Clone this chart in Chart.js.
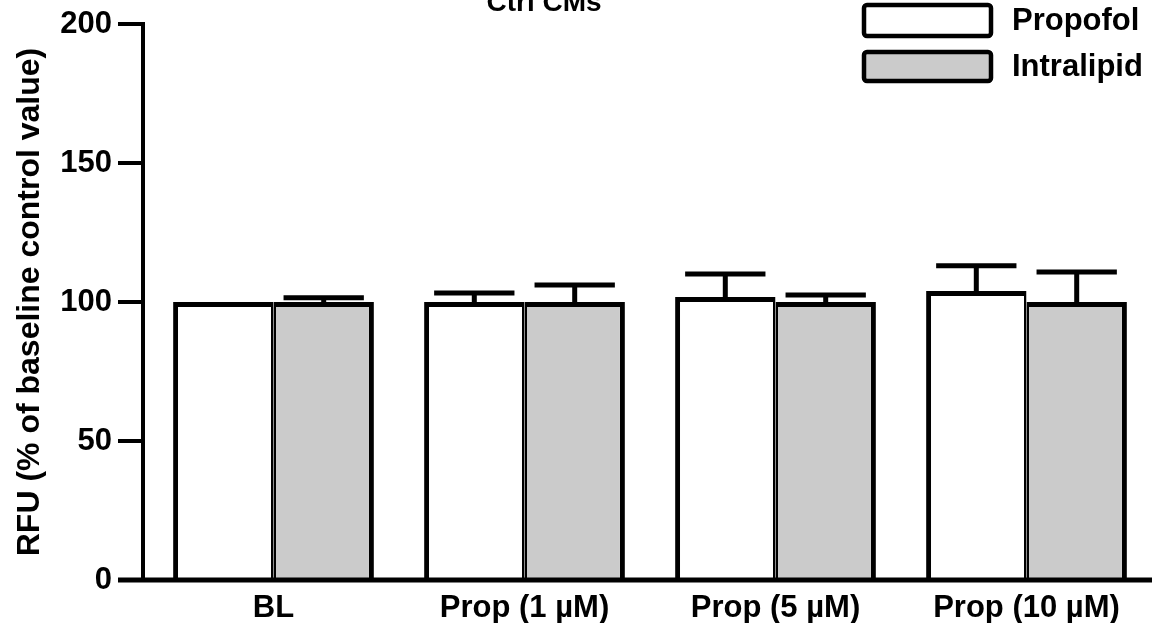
<!DOCTYPE html>
<html>
<head>
<meta charset="utf-8">
<script src="https://cdn.jsdelivr.net/npm/chart.js@4"></script>
<style>
  html, body { margin: 0; padding: 0; background: #ffffff; }
  #wrap { width: 1152px; height: 623px; }
</style>
</head>
<body>
<div id="wrap"><canvas id="c" width="1152" height="623"></canvas></div>
<script>
const categories = ['BL', 'Prop (1 µM)', 'Prop (5 µM)', 'Prop (10 µM)'];
const seriesNames = ['Propofol', 'Intralipid'];
const propofolValues = [100, 100, 101.8, 104.0];
const propofolErrors = [0, 3.2, 8.3, 9.0];
const intralipidValues = [100, 100, 100, 100];
const intralipidErrors = [1.5, 6.1, 2.5, 10.8];
const yTicks = [0, 50, 100, 150, 200];
const chartTitle = 'Ctrl CMs';
const yTitle = 'RFU (% of baseline control value)';

const FONT = '"Liberation Sans", Arial, sans-serif';
const GRAY = '#cbcbcb';

const errorsByDataset = [propofolErrors, intralipidErrors];

const decorPlugin = {
  id: 'decor',
  afterDatasetsDraw(chart) {
    const ctx = chart.ctx;
    const y = chart.scales.y;
    ctx.save();
    ctx.strokeStyle = '#000';
    ctx.lineWidth = 5;
    ctx.lineCap = 'butt';
    chart.data.datasets.forEach((ds, di) => {
      const meta = chart.getDatasetMeta(di);
      const errs = errorsByDataset[di];
      meta.data.forEach((bar, i) => {
        const e = errs[i];
        if (!e) return;
        const top = y.getPixelForValue(ds.data[i] + e);
        const base = y.getPixelForValue(ds.data[i]);
        const half = bar.width * 0.4;
        ctx.beginPath();
        ctx.moveTo(bar.x, base);
        ctx.lineTo(bar.x, top);
        ctx.moveTo(bar.x - half, top);
        ctx.lineTo(bar.x + half, top);
        ctx.stroke();
      });
    });
    ctx.restore();
  },
  afterDraw(chart) {
    const ctx = chart.ctx;
    const y = chart.scales.y;
    const area = chart.chartArea;
    const axisX = area.left - 5;
    ctx.save();
    ctx.strokeStyle = '#000';
    ctx.lineCap = 'butt';
    // y axis line
    ctx.lineWidth = 4;
    ctx.beginPath();
    ctx.moveTo(axisX, y.getPixelForValue(200) - 2);
    ctx.lineTo(axisX, y.getPixelForValue(0));
    ctx.stroke();
    // y tick marks
    yTicks.forEach(v => {
      const py = y.getPixelForValue(v);
      ctx.beginPath();
      ctx.moveTo(axisX - 25, py);
      ctx.lineTo(axisX + 2, py);
      ctx.stroke();
    });
    // x axis line
    ctx.lineWidth = 5;
    ctx.beginPath();
    ctx.moveTo(axisX - 25, y.getPixelForValue(0));
    ctx.lineTo(chart.width, y.getPixelForValue(0));
    ctx.stroke();

    // title
    ctx.fillStyle = '#000';
    ctx.font = 'bold 28px ' + FONT;
    ctx.textAlign = 'center';
    ctx.textBaseline = 'alphabetic';
    ctx.fillText(chartTitle, 544, 11);

    // y title
    ctx.save();
    ctx.translate(30, 302);
    ctx.rotate(-Math.PI / 2);
    ctx.font = 'bold 32px ' + FONT;
    ctx.textAlign = 'center';
    ctx.textBaseline = 'middle';
    ctx.fillText(yTitle, 0, 0);
    ctx.restore();

    // legend
    const fills = ['#ffffff', GRAY];
    const boxes = [[864, 5, 127, 31], [864, 52, 127, 29]];
    ctx.lineWidth = 4.5;
    ctx.font = 'bold 31px ' + FONT;
    ctx.textAlign = 'left';
    ctx.textBaseline = 'middle';
    seriesNames.forEach((name, i) => {
      const [bx, by, bw, bh] = boxes[i];
      ctx.beginPath();
      ctx.roundRect(bx, by, bw, bh, 3);
      ctx.fillStyle = fills[i];
      ctx.fill();
      ctx.stroke();
      ctx.fillStyle = '#000';
      ctx.fillText(name, 1012, by + bh / 2 + 1);
    });
    ctx.restore();
  }
};

new Chart(document.getElementById('c'), {
  type: 'bar',
  data: {
    labels: categories,
    datasets: [
      {
        label: seriesNames[0],
        data: propofolValues,
        backgroundColor: '#ffffff',
        borderColor: '#000000',
        borderWidth: { top: 5, left: 5, right: 2.5, bottom: 0 },
        borderSkipped: false,
        barPercentage: 1.0,
        categoryPercentage: 0.8
      },
      {
        label: seriesNames[1],
        data: intralipidValues,
        backgroundColor: GRAY,
        borderColor: '#000000',
        borderWidth: { top: 5, left: 2.5, right: 5, bottom: 0 },
        borderSkipped: false,
        barPercentage: 1.0,
        categoryPercentage: 0.8
      }
    ]
  },
  options: {
    responsive: false,
    animation: false,
    devicePixelRatio: 1,
    layout: { padding: { top: 24, right: 0, left: 0, bottom: 0 } },
    plugins: {
      legend: { display: false },
      title: { display: false },
      tooltip: { enabled: false }
    },
    scales: {
      x: {
        grid: { display: false, drawTicks: false },
        border: { display: false },
        ticks: {
          color: '#000',
          font: { family: FONT, size: 31, weight: 'bold' },
          padding: 10,
          maxRotation: 0,
          autoSkip: false
        },
        afterFit(scale) {
          scale.height = 43;
          scale.paddingLeft = 0; scale.paddingRight = 0;
          scale.paddingTop = 0; scale.paddingBottom = 0;
        }
      },
      y: {
        min: 0,
        max: 200,
        grid: { display: false, drawTicks: false },
        border: { display: false },
        ticks: {
          stepSize: 50,
          color: '#000',
          font: { family: FONT, size: 31, weight: 'bold' },
          padding: 36
        },
        afterFit(scale) {
          scale.width = 148;
          scale.paddingTop = 0; scale.paddingBottom = 0;
          scale.paddingLeft = 0; scale.paddingRight = 0;
        }
      }
    }
  },
  plugins: [decorPlugin]
});
</script>
</body>
</html>
